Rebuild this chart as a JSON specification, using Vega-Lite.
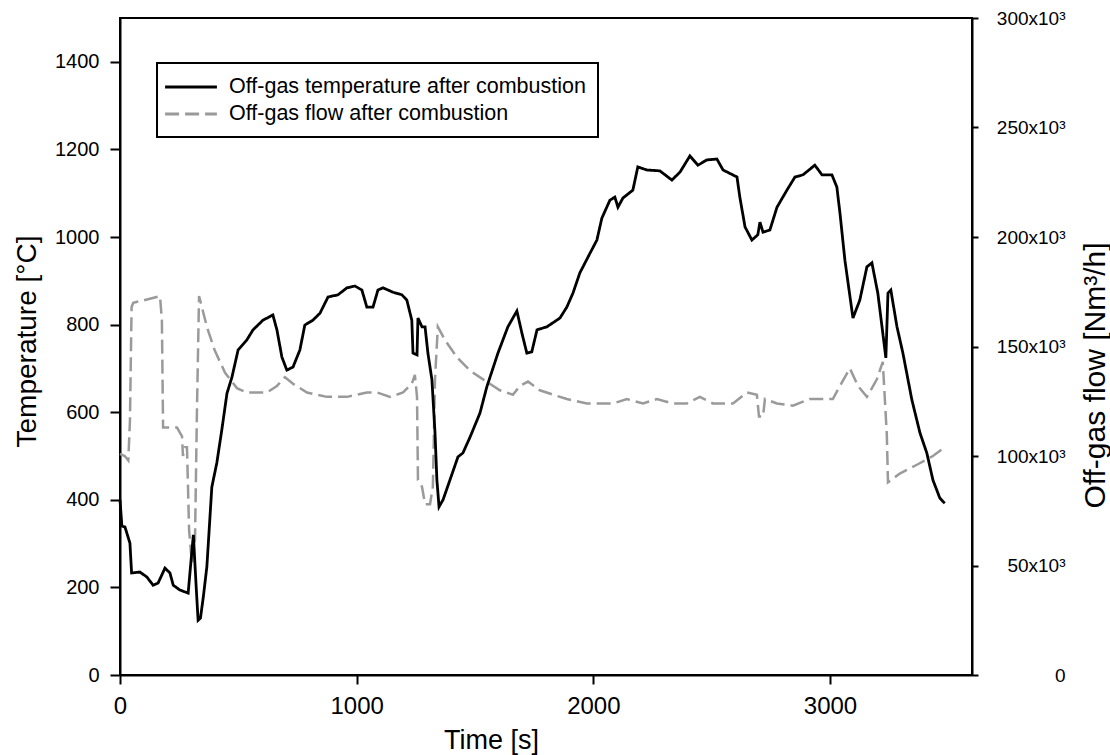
{
  "$schema": "https://vega.github.io/schema/vega-lite/v6.json",
  "width": 852,
  "height": 657,
  "autosize": {"type": "none"},
  "padding": {"left": 120, "top": 18, "right": 138, "bottom": 80},
  "background": "white",
  "config": {
    "font": "Liberation Sans",
    "view": {"stroke": "black", "strokeWidth": 2},
    "axis": {"grid": false, "domainColor": "black", "domainWidth": 2, "tickColor": "black", "tickWidth": 2, "labelColor": "black", "titleColor": "black", "titleFontWeight": "normal", "labelFont": "Liberation Sans", "titleFont": "Liberation Sans", "labelFlush": false, "labelOverlap": false, "format": "d"},
    "legend": {"orient": "none", "legendX": 37, "legendY": 45, "title": null, "strokeColor": "black", "padding": 12, "symbolType": "M-2.5,0H2.5", "symbolSize": 430, "symbolStrokeWidth": 3, "symbolOffset": 10, "labelFontSize": 21.5, "labelFont": "Liberation Sans", "labelColor": "black", "labelOffset": 26, "rowPadding": 4, "labelLimit": 500}
  },
  "data": {"values": [
    {"s":"T","t":0,"v":400},{"s":"T","t":8,"v":340},{"s":"T","t":21,"v":338},{"s":"T","t":42,"v":301},{"s":"T","t":49,"v":233},{"s":"T","t":84,"v":235},{"s":"T","t":113,"v":224},{"s":"T","t":140,"v":205},{"s":"T","t":161,"v":210},{"s":"T","t":190,"v":244},{"s":"T","t":211,"v":233},{"s":"T","t":225,"v":205},{"s":"T","t":253,"v":194},{"s":"T","t":288,"v":187},{"s":"T","t":300,"v":260},{"s":"T","t":310,"v":320},{"s":"T","t":322,"v":200},{"s":"T","t":330,"v":125},{"s":"T","t":340,"v":130},{"s":"T","t":352,"v":178},{"s":"T","t":367,"v":247},{"s":"T","t":388,"v":429},{"s":"T","t":409,"v":484},{"s":"T","t":430,"v":559},{"s":"T","t":452,"v":643},{"s":"T","t":473,"v":680},{"s":"T","t":499,"v":742},{"s":"T","t":536,"v":765},{"s":"T","t":562,"v":788},{"s":"T","t":604,"v":810},{"s":"T","t":646,"v":822},{"s":"T","t":663,"v":788},{"s":"T","t":684,"v":726},{"s":"T","t":705,"v":696},{"s":"T","t":731,"v":703},{"s":"T","t":760,"v":742},{"s":"T","t":781,"v":799},{"s":"T","t":815,"v":810},{"s":"T","t":845,"v":826},{"s":"T","t":879,"v":863},{"s":"T","t":921,"v":868},{"s":"T","t":959,"v":884},{"s":"T","t":993,"v":888},{"s":"T","t":1022,"v":879},{"s":"T","t":1043,"v":840},{"s":"T","t":1069,"v":840},{"s":"T","t":1090,"v":879},{"s":"T","t":1111,"v":884},{"s":"T","t":1153,"v":874},{"s":"T","t":1191,"v":868},{"s":"T","t":1212,"v":856},{"s":"T","t":1233,"v":810},{"s":"T","t":1238,"v":735},{"s":"T","t":1255,"v":731},{"s":"T","t":1259,"v":815},{"s":"T","t":1276,"v":795},{"s":"T","t":1289,"v":795},{"s":"T","t":1301,"v":735},{"s":"T","t":1318,"v":674},{"s":"T","t":1331,"v":553},{"s":"T","t":1339,"v":445},{"s":"T","t":1348,"v":384},{"s":"T","t":1365,"v":400},{"s":"T","t":1394,"v":445},{"s":"T","t":1428,"v":498},{"s":"T","t":1449,"v":507},{"s":"T","t":1479,"v":543},{"s":"T","t":1521,"v":598},{"s":"T","t":1550,"v":658},{"s":"T","t":1597,"v":735},{"s":"T","t":1639,"v":795},{"s":"T","t":1677,"v":831},{"s":"T","t":1698,"v":781},{"s":"T","t":1719,"v":735},{"s":"T","t":1740,"v":738},{"s":"T","t":1762,"v":788},{"s":"T","t":1804,"v":795},{"s":"T","t":1859,"v":815},{"s":"T","t":1888,"v":840},{"s":"T","t":1914,"v":872},{"s":"T","t":1943,"v":918},{"s":"T","t":1986,"v":963},{"s":"T","t":2015,"v":993},{"s":"T","t":2036,"v":1043},{"s":"T","t":2070,"v":1084},{"s":"T","t":2091,"v":1091},{"s":"T","t":2104,"v":1068},{"s":"T","t":2125,"v":1089},{"s":"T","t":2167,"v":1107},{"s":"T","t":2188,"v":1160},{"s":"T","t":2226,"v":1153},{"s":"T","t":2281,"v":1151},{"s":"T","t":2332,"v":1130},{"s":"T","t":2366,"v":1148},{"s":"T","t":2408,"v":1185},{"s":"T","t":2442,"v":1164},{"s":"T","t":2480,"v":1176},{"s":"T","t":2522,"v":1178},{"s":"T","t":2548,"v":1153},{"s":"T","t":2607,"v":1137},{"s":"T","t":2619,"v":1091},{"s":"T","t":2641,"v":1023},{"s":"T","t":2670,"v":993},{"s":"T","t":2695,"v":1005},{"s":"T","t":2704,"v":1034},{"s":"T","t":2717,"v":1011},{"s":"T","t":2746,"v":1016},{"s":"T","t":2776,"v":1068},{"s":"T","t":2818,"v":1107},{"s":"T","t":2852,"v":1137},{"s":"T","t":2886,"v":1142},{"s":"T","t":2936,"v":1164},{"s":"T","t":2966,"v":1142},{"s":"T","t":3008,"v":1142},{"s":"T","t":3029,"v":1114},{"s":"T","t":3042,"v":1055},{"s":"T","t":3063,"v":947},{"s":"T","t":3097,"v":815},{"s":"T","t":3126,"v":856},{"s":"T","t":3156,"v":932},{"s":"T","t":3177,"v":941},{"s":"T","t":3202,"v":872},{"s":"T","t":3223,"v":781},{"s":"T","t":3236,"v":724},{"s":"T","t":3245,"v":872},{"s":"T","t":3257,"v":879},{"s":"T","t":3283,"v":795},{"s":"T","t":3308,"v":735},{"s":"T","t":3346,"v":628},{"s":"T","t":3380,"v":553},{"s":"T","t":3409,"v":507},{"s":"T","t":3435,"v":445},{"s":"T","t":3464,"v":404},{"s":"T","t":3485,"v":392},
    {"s":"F","t":0,"v":101000},{"s":"F","t":20,"v":100000},{"s":"F","t":35,"v":98000},{"s":"F","t":42,"v":116000},{"s":"F","t":49,"v":168000},{"s":"F","t":56,"v":170000},{"s":"F","t":97,"v":171000},{"s":"F","t":169,"v":173000},{"s":"F","t":177,"v":162000},{"s":"F","t":182,"v":113000},{"s":"F","t":198,"v":113000},{"s":"F","t":241,"v":113000},{"s":"F","t":262,"v":109000},{"s":"F","t":266,"v":100000},{"s":"F","t":275,"v":104000},{"s":"F","t":283,"v":104000},{"s":"F","t":292,"v":66000},{"s":"F","t":304,"v":51000},{"s":"F","t":317,"v":62000},{"s":"F","t":325,"v":120000},{"s":"F","t":334,"v":173000},{"s":"F","t":346,"v":168000},{"s":"F","t":367,"v":159000},{"s":"F","t":401,"v":148000},{"s":"F","t":444,"v":138000},{"s":"F","t":494,"v":131000},{"s":"F","t":536,"v":129000},{"s":"F","t":621,"v":129000},{"s":"F","t":663,"v":132000},{"s":"F","t":697,"v":136000},{"s":"F","t":731,"v":133000},{"s":"F","t":790,"v":129000},{"s":"F","t":874,"v":127000},{"s":"F","t":959,"v":127000},{"s":"F","t":1043,"v":129000},{"s":"F","t":1086,"v":129000},{"s":"F","t":1141,"v":127000},{"s":"F","t":1196,"v":129000},{"s":"F","t":1233,"v":133000},{"s":"F","t":1246,"v":137000},{"s":"F","t":1255,"v":127000},{"s":"F","t":1259,"v":89000},{"s":"F","t":1276,"v":86000},{"s":"F","t":1289,"v":78000},{"s":"F","t":1310,"v":78000},{"s":"F","t":1322,"v":86000},{"s":"F","t":1331,"v":135000},{"s":"F","t":1343,"v":159000},{"s":"F","t":1373,"v":153000},{"s":"F","t":1424,"v":145000},{"s":"F","t":1479,"v":139000},{"s":"F","t":1534,"v":135000},{"s":"F","t":1605,"v":130000},{"s":"F","t":1660,"v":128000},{"s":"F","t":1690,"v":132000},{"s":"F","t":1724,"v":134000},{"s":"F","t":1774,"v":130000},{"s":"F","t":1888,"v":126000},{"s":"F","t":1973,"v":124000},{"s":"F","t":2083,"v":124000},{"s":"F","t":2142,"v":126000},{"s":"F","t":2210,"v":124000},{"s":"F","t":2269,"v":126000},{"s":"F","t":2336,"v":124000},{"s":"F","t":2395,"v":124000},{"s":"F","t":2450,"v":127000},{"s":"F","t":2505,"v":124000},{"s":"F","t":2590,"v":124000},{"s":"F","t":2649,"v":129000},{"s":"F","t":2691,"v":128000},{"s":"F","t":2700,"v":118000},{"s":"F","t":2717,"v":118000},{"s":"F","t":2725,"v":126000},{"s":"F","t":2776,"v":124000},{"s":"F","t":2843,"v":123000},{"s":"F","t":2915,"v":126000},{"s":"F","t":3012,"v":126000},{"s":"F","t":3042,"v":132000},{"s":"F","t":3084,"v":140000},{"s":"F","t":3118,"v":132000},{"s":"F","t":3156,"v":127000},{"s":"F","t":3198,"v":135000},{"s":"F","t":3223,"v":143000},{"s":"F","t":3240,"v":110000},{"s":"F","t":3245,"v":88000},{"s":"F","t":3295,"v":92000},{"s":"F","t":3367,"v":96000},{"s":"F","t":3435,"v":100000},{"s":"F","t":3485,"v":104000}
  ]},
  "encoding": {
    "x": {"field": "t", "type": "quantitative", "scale": {"domain": [0, 3600], "nice": false},
      "axis": {"values": [0, 1000, 2000, 3000], "format": "d", "tickSize": 9, "labelFontSize": 24, "labelPadding": 10, "title": "Time [s]", "titleFontSize": 27, "titleX": 371, "titleY": 73, "titleBaseline": "alphabetic", "titleAlign": "center"}},
    "color": {"field": "s", "type": "nominal", "scale": {"domain": ["T", "F"], "range": ["black", "#9a9a9a"]},
      "legend": {"labelExpr": "datum.label == 'T' ? 'Off-gas temperature after combustion' : 'Off-gas flow after combustion'", "encode": {"legend": {"update": {"strokeWidth": {"value": 2}}}}}},
    "strokeDash": {"field": "s", "type": "nominal", "scale": {"domain": ["T", "F"], "range": [[1, 0], [14, 6]]},
      "legend": {"labelExpr": "datum.label == 'T' ? 'Off-gas temperature after combustion' : 'Off-gas flow after combustion'", "encode": {"legend": {"update": {"strokeWidth": {"value": 2}}}}}}
  },
  "layer": [
    {
      "transform": [{"filter": "datum.s == 'F'"}],
      "mark": {"type": "line", "strokeWidth": 2.5},
      "encoding": {
        "y": {"field": "v", "type": "quantitative", "scale": {"domain": [0, 300000], "nice": false},
          "axis": {"orient": "right", "values": [0, 50000, 100000, 150000, 200000, 250000, 300000], "tickSize": 6, "labelFontSize": 19, "labelAlign": "right", "labelBaseline": "middle", "labelPadding": 87, "labelExpr": "datum.value == 0 ? '0' : format(datum.value / 1000, 'd') + 'x10³'", "title": "Off-gas flow [Nm³/h]", "titleFontSize": 30, "titleAngle": 270, "titleX": 132, "titleY": 357, "titleBaseline": "alphabetic", "titleAlign": "center"}}
      }
    },
    {
      "transform": [{"filter": "datum.s == 'T'"}],
      "mark": {"type": "line", "strokeWidth": 2.8},
      "encoding": {
        "y": {"field": "v", "type": "quantitative", "scale": {"domain": [0, 1500], "nice": false},
          "axis": {"orient": "left", "values": [0, 200, 400, 600, 800, 1000, 1200, 1400], "format": "d", "tickSize": 10, "labelFontSize": 20, "labelPadding": 11, "title": "Temperature [°C]", "titleFontSize": 28, "titleAngle": 270, "titleX": -85, "titleY": 323, "titleBaseline": "alphabetic", "titleAlign": "center"}}
      }
    }
  ],
  "resolve": {"scale": {"y": "independent"}}
}
